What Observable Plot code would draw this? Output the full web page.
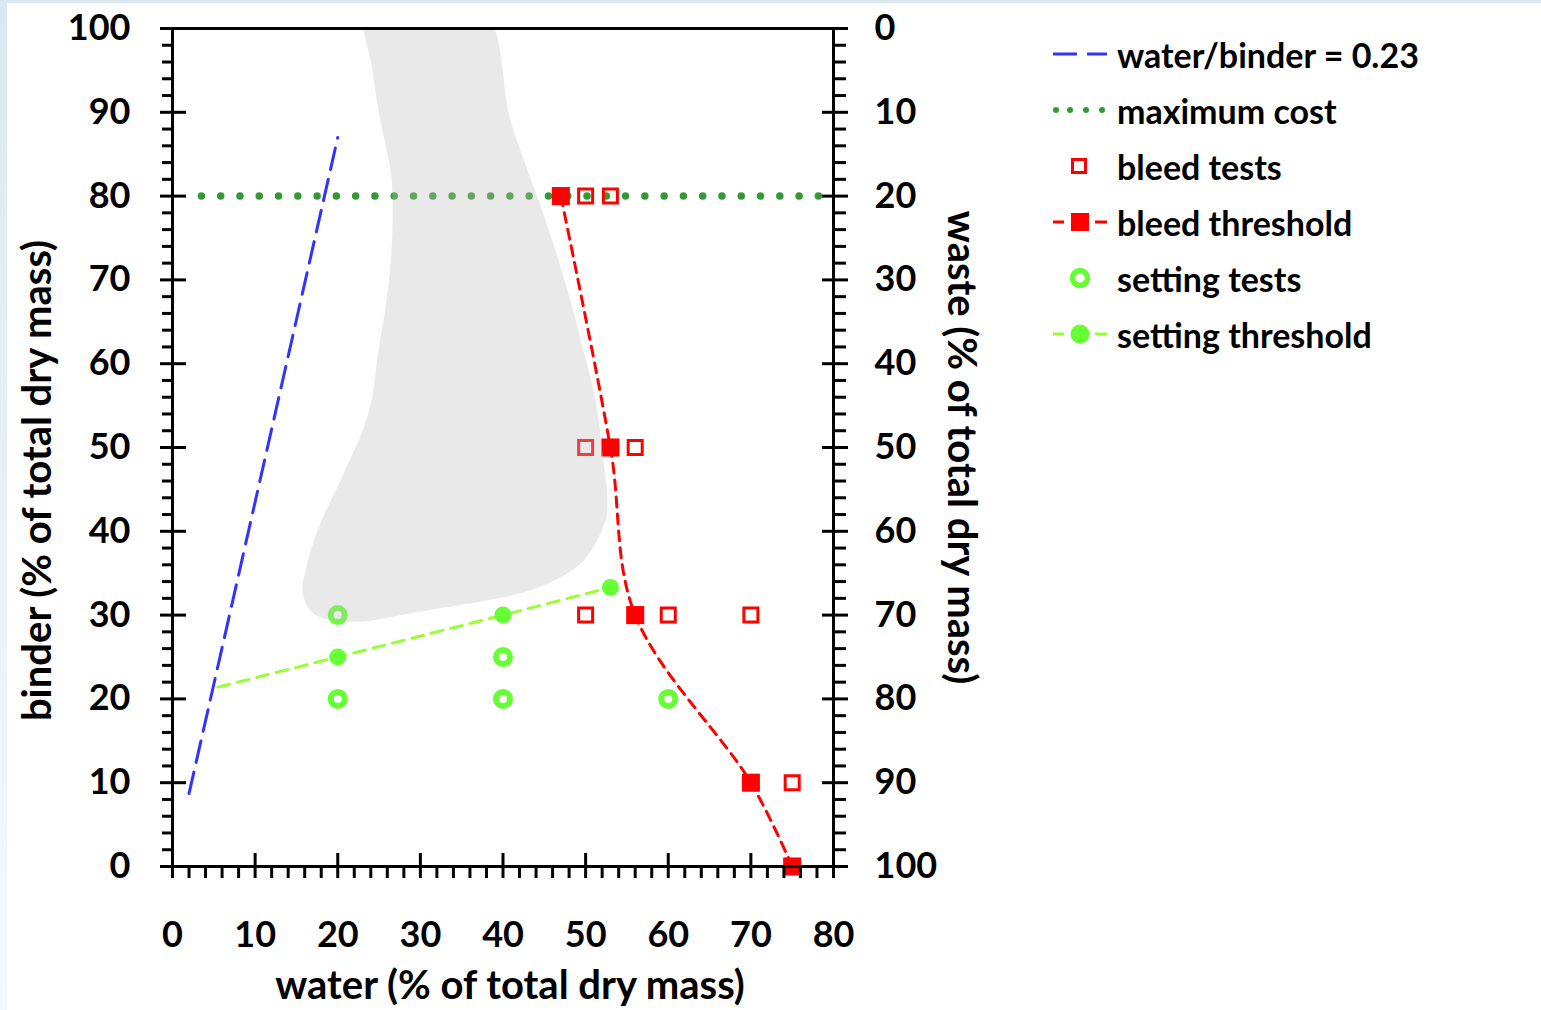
<!DOCTYPE html>
<html>
<head>
<meta charset="utf-8">
<script src="https://cdn.jsdelivr.net/npm/d3@7"></script>
<script src="https://cdn.jsdelivr.net/npm/@observablehq/plot@0.6"></script>
<style>
  html, body { margin: 0; padding: 0; background: #ffffff; width: 1541px; height: 1010px; overflow: hidden; }
  #strip-top { position: absolute; left: 0; top: 0; width: 1541px; height: 3px; background: #dbe8f1; z-index: 5; }
  #strip-left { position: absolute; left: 0; top: 0; width: 7px; height: 1010px; background: linear-gradient(#dbe8f1, #f6f9fb); z-index: 5; }
  #chart { position: absolute; left: 0; top: 0; }
  #legend { position: absolute; left: 1050px; top: 26px; font-family: Lato, sans-serif; font-weight: bold; font-size: 34px; color: #000; }
  .row { height: 56px; display: flex; align-items: center; white-space: nowrap; }
  .row svg { width: 62px; height: 40px; flex: none; margin-right: 5px; }
</style>
</head>
<body>
<div id="strip-top"></div>
<div id="strip-left"></div>
<div id="chart"></div>
<div id="legend"></div>
<script>
// ---- data (water, binder in % of total dry mass) ----
const wbWater = [2, 20];
const wbBinder = [8.7, 87];

const costWater = [3.5, 78.2];
const costBinder = [80, 80];

const bleedTestWater = [50, 53, 50, 56, 50, 60, 70, 75];
const bleedTestBinder = [80, 80, 50, 50, 30, 30, 30, 10];

const bleedThrWater = [47, 53, 56, 70, 75];
const bleedThrBinder = [80, 50, 30, 10, 0];

const settingTestWater = [20, 20, 40, 40, 60];
const settingTestBinder = [30, 20, 25, 20, 20];

const settingLineWater = [5.5, 20, 40, 53];
const settingLineBinder = [21.4, 25, 30, 33.3];
const settingThrWater = [20, 40, 53];
const settingThrBinder = [25, 30, 33.3];

// shaded feasible region outline
const regionWater = [23.5, 24.21, 25.17, 26.38, 26.63, 26.51, 25.9, 24.93, 24.08, 23.0, 20.33, 17.55, 16.1, 15.73, 16.7, 18.76, 22.39, 30.38, 42.12, 46.11, 49.74, 52.41, 52.65, 52.16, 51.2, 49.74, 48.17, 46.35, 44.3, 42.97, 40.91, 37.2];
const regionBinder = [103, 95.0, 89.0, 83.1, 79.5, 73.5, 67.5, 61.6, 55.6, 52.0, 46.1, 40.1, 35.3, 32.9, 30.5, 29.5, 29.2, 30.5, 32.6, 34.1, 36.5, 41.3, 43.7, 48.4, 55.6, 61.6, 67.5, 73.5, 79.5, 83.1, 89.0, 103];

const xMajor = [0, 10, 20, 30, 40, 50, 60, 70, 80];
const xMinor = d3.range(0, 81, 2).filter(d => d % 10 !== 0);
const yMajor = [0, 10, 20, 30, 40, 50, 60, 70, 80, 90, 100];
const yMinor = d3.range(0, 101, 2).filter(d => d % 10 !== 0);

const xTitle = "water (% of total dry mass)";
const yTitle = "binder (% of total dry mass)";
const y2Title = "waste (% of total dry mass)";

const legendItems = ["water/binder = 0.23", "maximum cost", "bleed tests", "bleed threshold", "setting tests", "setting threshold"];

// ---- build ----
const zip = (xs, ys) => xs.map((x, i) => ({x, y: ys[i]}));

const W = 1040, H = 1010, mL = 172, mR = 207, mT = 28, mB = 144;
const pw = W - mL - mR, ph = H - mT - mB;

const chart = Plot.plot({
  width: W, height: H,
  marginLeft: mL, marginRight: mR, marginTop: mT, marginBottom: mB,
  x: {domain: [0, 80], axis: null},
  y: {domain: [0, 100], axis: null},
  style: {fontFamily: "Lato, sans-serif", fontWeight: "bold", fontSize: "36px", background: "transparent", color: "#000", overflow: "visible"},
  marks: [
    Plot.line(zip(wbWater, wbBinder), {x: "x", y: "y", stroke: "#3333ff", strokeWidth: 3, strokeDasharray: "22,10"}),
    Plot.line(zip(costWater, costBinder), {x: "x", y: "y", stroke: "#339933", strokeWidth: 7.5, strokeDasharray: "0,19.28", strokeLinecap: "round"}),
    Plot.line(zip(bleedThrWater, bleedThrBinder), {x: "x", y: "y", curve: "catmull-rom", stroke: "#ff0000", strokeWidth: 3, strokeDasharray: "10,7"}),
    Plot.line(zip(settingLineWater, settingLineBinder), {x: "x", y: "y", stroke: "#99ff33", strokeWidth: 3, strokeDasharray: "12,8"}),
    Plot.dot(zip(bleedTestWater, bleedTestBinder), {x: "x", y: "y", symbol: "square", r: 7.9, stroke: "#ff0000", strokeWidth: 3, fill: "none"}),
    Plot.dot(zip(bleedThrWater, bleedThrBinder), {x: "x", y: "y", symbol: "square", r: 10.2, fill: "#ff0000", stroke: "none"}),
    Plot.dot(zip(settingTestWater, settingTestBinder), {x: "x", y: "y", r: 7, stroke: "#66ff33", strokeWidth: 6, fill: "none"}),
    Plot.dot(zip(settingThrWater, settingThrBinder), {x: "x", y: "y", r: 8.5, fill: "#66ff33", stroke: "none"}),
    Plot.line(zip(regionWater, regionBinder), {x: "x", y: "y", curve: "catmull-rom-closed", fill: "#bebebe", fillOpacity: 0.34, stroke: "none", clip: true}),
    // axis lines / frame
    Plot.ruleX([0, 80], {stroke: "#000", strokeWidth: 3}),
    Plot.ruleY([0, 100], {stroke: "#000", strokeWidth: 3}),
    // x ticks
    Plot.tickX(xMinor, {x: d => d, insetTop: ph, insetBottom: -12, stroke: "#000", strokeWidth: 3}),
    Plot.tickX(xMajor, {x: d => d, insetTop: ph - 13, insetBottom: -12, stroke: "#000", strokeWidth: 3}),
    // left y ticks
    Plot.tickY(yMinor, {y: d => d, insetLeft: -10, insetRight: pw, stroke: "#000", strokeWidth: 3}),
    Plot.tickY(yMajor, {y: d => d, insetLeft: -12, insetRight: pw - 14, stroke: "#000", strokeWidth: 3}),
    // right y ticks
    Plot.tickY(yMinor, {y: d => d, insetLeft: pw, insetRight: -13, stroke: "#000", strokeWidth: 3}),
    Plot.tickY(yMajor, {y: d => d, insetLeft: pw - 11, insetRight: -15, stroke: "#000", strokeWidth: 3}),
    // tick labels
    Plot.text(xMajor, {x: d => d, frameAnchor: "bottom", dy: 69, text: d => String(d), lineAnchor: "middle", fill: "#000"}),
    Plot.text(yMajor, {y: d => d, frameAnchor: "left", dx: -42, textAnchor: "end", text: d => String(d), lineAnchor: "middle", fill: "#000"}),
    Plot.text(yMajor, {y: d => d, frameAnchor: "right", dx: 41, textAnchor: "start", text: d => String(100 - d), lineAnchor: "middle", fill: "#000"}),
    // titles
    Plot.text([xTitle], {frameAnchor: "bottom", dy: 120, dx: 7, text: d => d, textAnchor: "middle", lineAnchor: "middle", fill: "#000", fontSize: 40}),
    Plot.text([yTitle], {frameAnchor: "left", dx: -134, dy: 33, rotate: -90, text: d => d, textAnchor: "middle", lineAnchor: "middle", fill: "#000", fontSize: 40}),
    Plot.text([y2Title], {frameAnchor: "right", dx: 127, dy: 0, rotate: 90, text: d => d, textAnchor: "middle", lineAnchor: "middle", fill: "#000", fontSize: 40})
  ]
});
document.getElementById("chart").appendChild(chart);

// ---- legend ----
const symbols = [
  `<line x1="3" y1="20" x2="27" y2="20" stroke="#3333ff" stroke-width="3"/><line x1="37" y1="20" x2="57" y2="20" stroke="#3333ff" stroke-width="3"/>`,
  `<g fill="#339933"><circle cx="6" cy="20" r="3"/><circle cx="20" cy="20" r="3"/><circle cx="36" cy="20" r="3"/><circle cx="52" cy="20" r="3"/></g>`,
  `<rect x="22.5" y="13.5" width="13" height="13" fill="none" stroke="#ff0000" stroke-width="3"/>`,
  `<line x1="3" y1="20" x2="14" y2="20" stroke="#ff0000" stroke-width="3"/><rect x="21" y="11" width="18" height="18" fill="#ff0000"/><line x1="45" y1="20" x2="57" y2="20" stroke="#ff0000" stroke-width="3"/>`,
  `<circle cx="30" cy="20" r="7.5" fill="none" stroke="#66ff33" stroke-width="5.5"/>`,
  `<line x1="3" y1="20" x2="14" y2="20" stroke="#99ff33" stroke-width="3"/><circle cx="30" cy="20" r="9.5" fill="#66ff33"/><line x1="45" y1="20" x2="57" y2="20" stroke="#99ff33" stroke-width="3"/>`
];
const legend = document.getElementById("legend");
legendItems.forEach((label, i) => {
  const row = document.createElement("div");
  row.className = "row";
  row.innerHTML = `<svg viewBox="0 0 62 40">${symbols[i]}</svg><span>${label}</span>`;
  legend.appendChild(row);
});
</script>
</body>
</html>
